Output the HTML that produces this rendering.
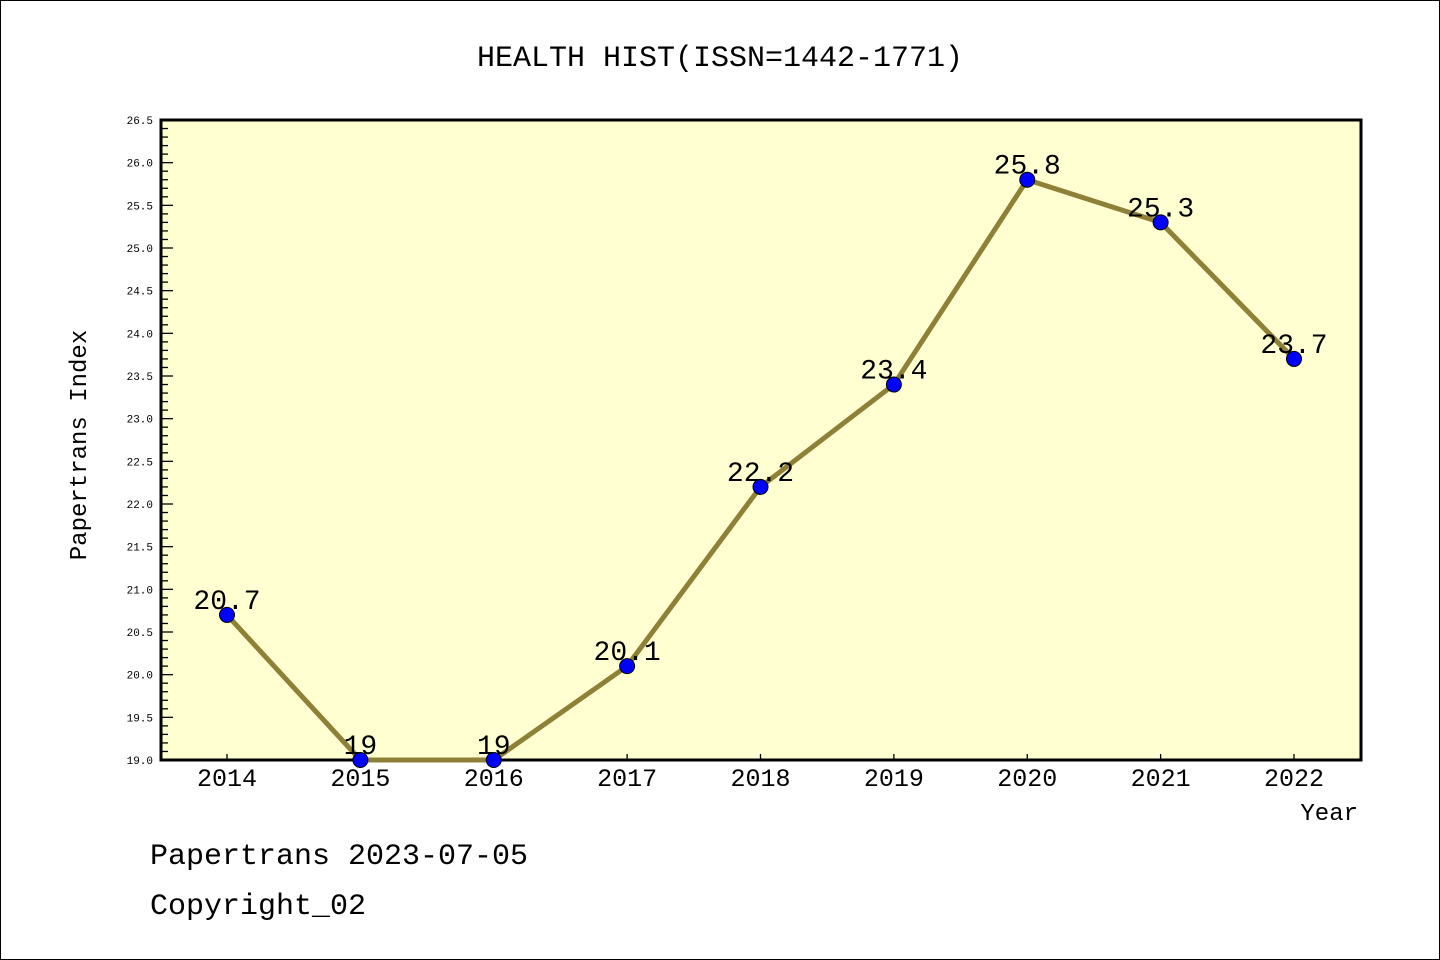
<!DOCTYPE html>
<html><head><meta charset="utf-8"><style>
body{margin:0;background:#fff}
svg{display:block}
text{font-family:"Liberation Mono","DejaVu Sans Mono",monospace;fill:#000}
</style></head><body>
<svg id="c" width="1440" height="960">
<rect x="0.5" y="0.5" width="1439" height="959" fill="#fff" stroke="#000"/>
<text x="720" y="66" font-size="30" text-anchor="middle">HEALTH HIST(ISSN=1442-1771)</text>
<rect x="161" y="120" width="1200" height="640" fill="#ffffd2"/>
<rect x="161" y="120" width="1200" height="640" fill="none" stroke="#000" stroke-width="3"/>
<text x="86" y="445" font-size="24" text-anchor="middle" transform="rotate(-90 86 445)">Papertrans Index</text>
<text x="1358" y="820" font-size="24" text-anchor="end">Year</text>
<text x="150" y="864" font-size="30">Papertrans 2023-07-05</text>
<text x="150" y="914" font-size="30">Copyright_02</text>
</svg>
<script>
const years=["2014","2015","2016","2017","2018","2019","2020","2021","2022"];
const values=[20.7,19,19,20.1,22.2,23.4,25.8,25.3,23.7];
const labels=["20.7","19","19","20.1","22.2","23.4","25.8","25.3","23.7"];
const yMin=19.0,yMax=26.5;
const NS="http://www.w3.org/2000/svg";
const svg=document.getElementById('c');
const x=i=>227+i*133.375;
const y=v=>760-(v-yMin)/(yMax-yMin)*640;
function mk(t,a,p){const e=document.createElementNS(NS,t);for(const k in a)e.setAttribute(k,a[k]);(p||svg).appendChild(e);return e;}
for(let k=0;k<=75;k++){const v=yMin+k*0.1;const yy=y(v);const major=k%5===0;
 const t=mk('line',{x1:161,x2:161+(major?12:7),y1:yy,y2:yy,stroke:'#000','stroke-width':1.3});
 
 
 if(major){const l=mk('text',{x:153,y:yy+4,'font-size':11,'text-anchor':'end','font-family':'Liberation Sans, sans-serif'});l.textContent=v.toFixed(1);
 
 }
}
years.forEach((yr,i)=>{
 const t=mk('line',{x1:x(i),x2:x(i),y1:760,y2:754,stroke:'#000','stroke-width':1.3});
 
 
 const l=mk('text',{x:x(i),y:786,'font-size':25,'text-anchor':'middle','font-family':'Liberation Sans, sans-serif'});l.textContent=yr;
 
 
});
const line=mk('polyline',{points:values.map((v,i)=>x(i)+','+y(v)).join(' '),fill:'none',stroke:'#8f8038','stroke-width':5,'stroke-linejoin':'round'});


values.forEach((v,i)=>{
 const c=mk('circle',{cx:x(i),cy:y(v),r:7.5,fill:'#0000ff',stroke:'#000','stroke-width':1});
 
 
 const l=mk('text',{x:x(i),y:y(v)-6,'font-size':28,'text-anchor':'middle'});l.textContent=labels[i];
 
 
});
</script>
</body></html>
